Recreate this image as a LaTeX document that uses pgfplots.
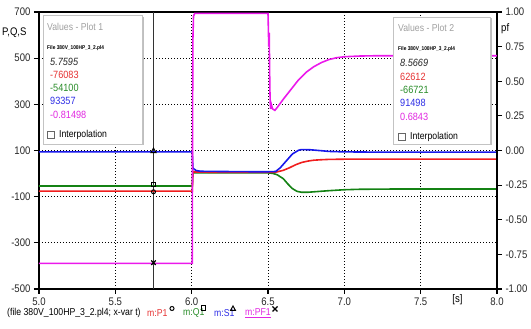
\documentclass[border=0pt]{standalone}
\usepackage{fontspec}
\setmainfont{Liberation Sans}[FakeStretch=0.87]
\usepackage{pgfplots}
\pgfplotsset{compat=1.18}
\definecolor{cP}{RGB}{240,30,30}
\definecolor{cQ}{RGB}{20,130,20}
\definecolor{cS}{RGB}{25,25,235}
\definecolor{cPF}{RGB}{235,25,235}
\definecolor{tP}{RGB}{230,50,50}
\definecolor{tQ}{RGB}{40,140,40}
\definecolor{tS}{RGB}{45,45,230}
\definecolor{tPF}{RGB}{225,40,225}
\definecolor{boxgray}{RGB}{195,195,195}
\definecolor{titlegray}{RGB}{160,160,160}
\begin{document}
\begin{tikzpicture}
\path[use as bounding box] (-39pt,-40pt) rectangle (492pt,289pt);
\begin{axis}[
  at={(0pt,0pt)}, anchor=south west, scale only axis,
  width=458pt, height=277pt,
  xmin=5, xmax=8, ymin=-500, ymax=700,
  xtick={5,5.5,6,6.5,7,7.5,8},
  ytick={-500,-300,-100,100,300,500,700},
  xtick pos=lower, ytick pos=left,
  /pgf/number format/assume math mode=true,
  xticklabel style={/pgf/number format/fixed,/pgf/number format/fixed zerofill,/pgf/number format/precision=1},
  tick label style={font=\fontsize{11}{12}\selectfont, text=black!85},
  grid=major,
  major grid style={black, line width=0.8pt, dash pattern=on 1pt off 2pt},
  tick align=outside, major tick length=5pt,
  tick style={line width=1.1pt, black},
  axis line style={line width=1.5pt},
  clip=true,
]
% cursor
\addplot[black!80, line width=0.8pt] coordinates {(5.75,-500) (5.75,700)};
% Q (green)
\addplot[cQ, line width=1.6pt] coordinates {
(5,-54)(6.0,-54)(6.004,-54)(6.008,4)(6.05,3)(6.5,3)(6.53,1)(6.56,-5)(6.6,-22)(6.63,-45)(6.66,-65)(6.69,-77)(6.72,-81)(6.76,-81)(6.8,-79)(6.9,-74)(7.0,-70)(7.1,-68)(7.3,-67)(8,-67)};
% P (red)
\addplot[cP, line width=1.6pt] coordinates {
(5,-76)(6.0,-76)(6.004,-76)(6.008,10)(6.02,7)(6.1,6)(6.3,5)(6.5,5)(6.55,6)(6.6,14)(6.64,25)(6.68,38)(6.72,48)(6.76,54)(6.8,58)(6.85,60)(6.9,61.5)(7.0,62.3)(7.2,62.6)(8,62.6)};
% S (blue)
\addplot[cS, line width=1.6pt] coordinates {
(5,94)(6.0,94)(6.004,94)(6.008,25)(6.015,20)(6.03,13)(6.06,10)(6.2,9)(6.4,8)(6.5,8)(6.55,9)(6.58,25)(6.62,55)(6.66,85)(6.7,101)(6.72,104)(6.78,103)(6.85,99)(6.9,96)(7.0,94)(7.2,93)(8,93)};
% markers at cursor
\addplot[only marks, mark=triangle, mark size=3pt, black, line width=1pt] coordinates {(5.75,97)};
\addplot[only marks, mark=square, mark size=2.3pt, black, line width=1pt] coordinates {(5.75,-47)};
\addplot[only marks, mark=o, mark size=2pt, black, line width=1pt] coordinates {(5.75,-79)};
\end{axis}
\begin{axis}[
  at={(0pt,0pt)}, anchor=south west, scale only axis,
  width=458pt, height=277pt,
  xmin=5, xmax=8, ymin=-1, ymax=1,
  axis x line=none, axis y line*=right,
  ytick={-1,-0.75,-0.5,-0.25,0,0.25,0.5,0.75,1},
  /pgf/number format/assume math mode=true,
  yticklabel style={/pgf/number format/fixed,/pgf/number format/fixed zerofill,/pgf/number format/precision=2},
  tick label style={font=\fontsize{11}{12}\selectfont, text=black!85},
  tick align=outside, major tick length=5pt,
  tick style={line width=1.1pt, black},
  axis line style={-, line width=1.5pt},
  clip=true,
]
\addplot[cPF, line width=1.6pt] coordinates {
(5,-0.815)(6.0,-0.815)(6.004,-0.815)(6.006,0.2)(6.008,0.8)(6.012,0.97)(6.02,0.99)(6.5,0.99)(6.502,0.9)(6.505,0.75)(6.508,0.85)(6.512,0.45)(6.516,0.3)(6.52,0.34)(6.53,0.30)(6.545,0.29)(6.56,0.31)(6.6,0.37)(6.65,0.44)(6.7,0.51)(6.75,0.565)(6.8,0.605)(6.85,0.635)(6.9,0.657)(6.95,0.67)(7.0,0.677)(7.1,0.682)(7.2,0.684)(8,0.684)};
\addplot[only marks, mark=x, mark size=3.2pt, black, line width=1.2pt] coordinates {(5.75,-0.81)};
\end{axis}
% axis labels
\node[anchor=west, inner sep=0, font=\fontsize{11}{12}\selectfont] at (-37pt,256pt) {P,Q,S};
\node[anchor=west, inner sep=0, font=\fontsize{11}{12}\selectfont] at (462pt,260pt) {pf};
\node[inner sep=0, font=\fontsize{11}{12}\selectfont] at (418.5pt,-11pt) {[s]};
% bottom row
\begin{scope}[every node/.style={anchor=west, inner sep=0, font=\fontsize{10}{12}\selectfont}]
\node at (-32pt,-24pt) {(file 380V\_100HP\_3\_2.pl4; x-var t)};
\node[text=tP] at (108pt,-24pt) {m:P1};
\node[text=tQ] at (144pt,-24pt) {m:Q1};
\node[text=tS] at (175pt,-24pt) {m:S1};
\node[text=tPF] at (206pt,-24pt) {\underline{m:PF1}};
\end{scope}
\draw[black, line width=1pt] (133pt,-19.5pt) circle (2pt);
\draw[black, line width=1pt] (162pt,-21.5pt) rectangle (166.5pt,-17pt);
\draw[black, line width=1pt] (191.5pt,-21.5pt) -- (196.5pt,-21.5pt) -- (194pt,-17pt) -- cycle;
\draw[black, line width=1.3pt] (233.5pt,-22.5pt) -- (238.5pt,-17.5pt) (233.5pt,-17.5pt) -- (238.5pt,-22.5pt);
% value box 1
\fill[black!25] (5.5pt,143.5pt) rectangle (104.5pt,272pt);
\filldraw[fill=white, draw=boxgray, line width=0.6pt] (4pt,145pt) rectangle (103pt,274pt);
\begin{scope}[every node/.style={anchor=west, inner sep=0, font=\fontsize{10}{12}\selectfont}]
\node[text=titlegray] at (8pt,262.5pt) {Values - Plot 1};
\node[font=\fontsize{5.5}{6}\selectfont\bfseries] at (8pt,241pt) {File 380V\_100HP\_3\_2.pl4};
\node[font=\fontsize{10.5}{12}\selectfont\itshape, text=black!85] at (11pt,227.5pt) {5.7595};
\node[font=\fontsize{10.5}{12}\selectfont, text=tP] at (11pt,214pt) {-76083};
\node[font=\fontsize{10.5}{12}\selectfont, text=tQ] at (11pt,201pt) {-54100};
\node[font=\fontsize{10.5}{12}\selectfont, text=tS] at (11pt,188pt) {93357};
\node[font=\fontsize{10.5}{12}\selectfont, text=tPF] at (11pt,174.5pt) {-0.81498};
\node at (20pt,154pt) {Interpolation};
\end{scope}
\draw[black!60, line width=0.5pt] (8pt,150.5pt) rectangle (15pt,157.5pt);
% value box 2
\fill[black!25] (355.5pt,143.5pt) rectangle (452.5pt,270.5pt);
\filldraw[fill=white, draw=boxgray, line width=0.6pt] (354pt,145pt) rectangle (451pt,272pt);
\begin{scope}[every node/.style={anchor=west, inner sep=0, font=\fontsize{10}{12}\selectfont}]
\node[text=titlegray] at (359pt,261pt) {Values - Plot 2};
\node[font=\fontsize{5.5}{6}\selectfont\bfseries] at (359pt,239.5pt) {File 380V\_100HP\_3\_2.pl4};
\node[font=\fontsize{10.5}{12}\selectfont\itshape, text=black!85] at (361pt,226pt) {8.5669};
\node[font=\fontsize{10.5}{12}\selectfont, text=tP] at (361pt,212.5pt) {62612};
\node[font=\fontsize{10.5}{12}\selectfont, text=tQ] at (361pt,199pt) {-66721};
\node[font=\fontsize{10.5}{12}\selectfont, text=tS] at (361pt,186pt) {91498};
\node[font=\fontsize{10.5}{12}\selectfont, text=tPF] at (361pt,172.5pt) {0.6843};
\node at (371pt,152pt) {Interpolation};
\end{scope}
\draw[black!60, line width=0.5pt] (359pt,148.5pt) rectangle (366pt,155.5pt);
\end{tikzpicture}
\end{document}
